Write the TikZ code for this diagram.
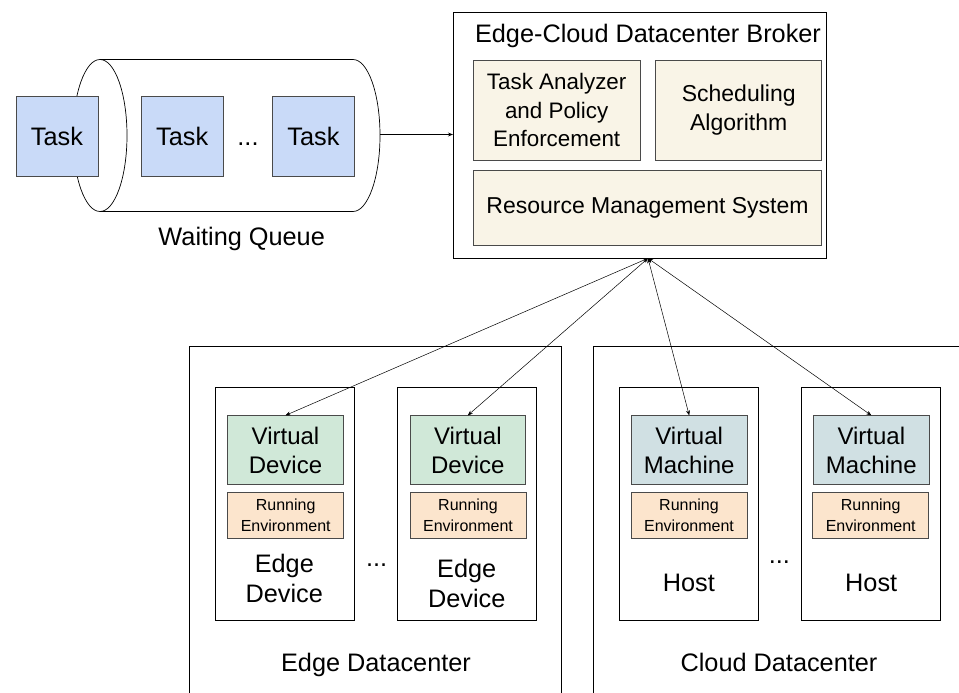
\documentclass[tikz,border=0pt]{standalone}
\usepackage{fontspec}
\setmainfont{Liberation Sans}
\usetikzlibrary{arrows.meta}

\begin{document}
\begin{tikzpicture}[x=1pt, y=-1pt, line width=0.7pt,
    >={Stealth[length=5pt, width=4pt]},
    hugetext/.style={font=\fontsize{25.3}{30}\selectfont},
    bigtext/.style={font=\fontsize{23}{28.3}\selectfont},
    midtext/.style={font=\fontsize{24}{29}\selectfont},
    smalltext/.style={font=\fontsize{16}{20.6}\selectfont},
    box/.style={draw=lineColour, align=center, inner sep=0pt, bigtext},
    taskbox/.style={box, hugetext, fill=taskColour, minimum width=82pt, minimum height=80pt},
    brokerpart/.style={box, fill=brokerColour},
    container/.style={box, draw=black, minimum width=139pt, minimum height=232.7pt},
    vdbox/.style={box, midtext, fill=deviceColour, minimum width=115.7pt, minimum height=68.6pt},
    vmbox/.style={box, midtext, fill=machineColour, minimum width=116.2pt, minimum height=68.6pt},
    envbox/.style={box, smalltext, fill=envColour, minimum width=116pt, minimum height=46pt},
    label/.style={align=center, inner sep=0pt, hugetext}]
    \definecolor{lineColour}{HTML}{4A4A4A}
    \definecolor{taskColour}{HTML}{C9DAF8}
    \definecolor{brokerColour}{HTML}{F9F4E7}
    \definecolor{deviceColour}{HTML}{D0E8D8}
    \definecolor{machineColour}{HTML}{D0E0E3}
    \definecolor{envColour}{HTML}{FCE5CD}

    \useasboundingbox (0,0) rectangle (959,693);

    % Waiting queue as a lying cylinder
    \draw (100,135.5) ellipse [x radius=27pt, y radius=76pt];
    \draw (100,59.5) -- (353,59.5) arc [start angle=90, end angle=-90, x radius=27pt, y radius=76pt] -- (100,211.5);
    \coordinate (qout) at (380,134.5);

    % Tasks
    \node[taskbox] (task0) at (57,136) {Task};
    \node[taskbox] (task1) at (182.2,136) {Task};
    \node[taskbox] (task2) at (313.5,136) {Task};
    \node[label, anchor=base] (qdots) at (248,145) {...};
    \node[label, anchor=base] (queue) at (241.7,245) {Waiting Queue};

    % Broker
    \node[box, draw=black, minimum width=373.4pt, minimum height=245.6pt] (broker) at (640,135.5) {};
    \node[label, anchor=base] (brokertitle) at (648,42.7) {Edge-Cloud Datacenter Broker};
    \node[brokerpart, font=\fontsize{22.4}{28.3}\selectfont, minimum width=166.7pt, minimum height=100pt]
        (analyzer) at (556.7,110) {Task Analyzer\\and Policy\\Enforcement};
    \node[brokerpart, minimum width=166pt, minimum height=100pt] (scheduler) at (738.7,110)
        {Scheduling\\Algorithm};
    \node[brokerpart, minimum width=348.4pt, minimum height=75pt] (rms) at (647.5,207.5)
        {Resource Management System};

    \draw[->] (qout) -- (qout -| broker.west);

    % Datacenters (open at the bottom)
    \draw (189.3,700) |- (561.7,346.7) -- (561.7,700);
    \draw (593.3,700) |- (965,346.7);
    \node[label, anchor=base] (edgedc) at (376,671.7) {Edge Datacenter};
    \node[label, anchor=base] (clouddc) at (779,671.7) {Cloud Datacenter};

    % Edge devices
    \node[container] (ed1) at (284.5,503.7) {};
    \node[container] (ed2) at (466.7,503.7) {};
    \node[vdbox] (vd1) at (285.5,450) {Virtual\\Device};
    \node[vdbox] (vd2) at (467.8,450) {Virtual\\Device};
    \node[envbox] (env1) at (285.7,515.3) {Running\\Environment};
    \node[envbox] (env2) at (468,515.3) {Running\\Environment};
    \node[label] (ed1name) at (284.3,578.5) {Edge\\Device};
    \node[label] (ed2name) at (466.7,583.5) {Edge\\Device};
    \node[label, anchor=base] (edots) at (376.7,566) {...};

    % Cloud hosts
    \node[container] (host1) at (688.8,503.7) {};
    \node[container] (host2) at (871.2,503.7) {};
    \node[vmbox] (vm1) at (689.2,450) {Virtual\\Machine};
    \node[vmbox] (vm2) at (871.3,450) {Virtual\\Machine};
    \node[envbox] (env3) at (689,515.3) {Running\\Environment};
    \node[envbox] (env4) at (870.7,515.3) {Running\\Environment};
    \node[label] (host1name) at (688.8,583) {Host};
    \node[label] (host2name) at (871.2,583) {Host};
    \node[label, anchor=base] (cdots) at (779.3,563.5) {...};

    % Links between broker and the virtual units
    \coordinate (hub) at (648,258.3);
    \foreach \unit in {vd1,vd2,vm1,vm2}
        \draw[<->, line width=0.5pt] (hub) -- (\unit.north);

\end{tikzpicture}
\end{document}
